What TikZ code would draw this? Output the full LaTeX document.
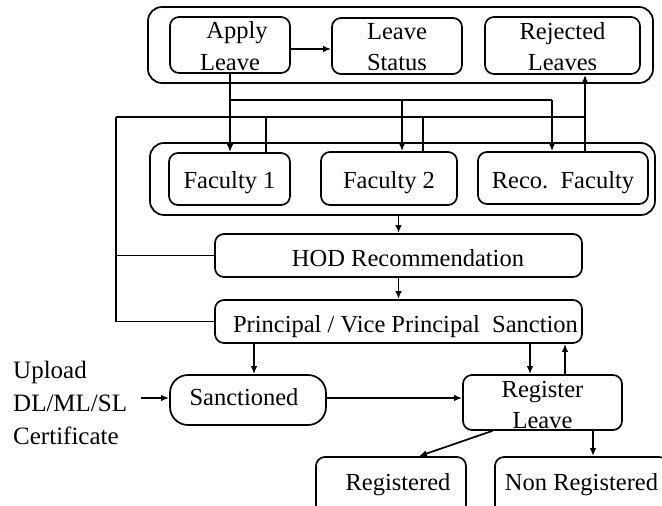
\documentclass[tikz,border=0pt]{standalone}
\usepackage{fontspec}
\setmainfont{Liberation Serif}
\usetikzlibrary{arrows.meta}
\newcommand{\onetxt}[2]{\raisebox{#1}[0pt][0pt]{#2}}
\newcommand{\twotxt}[3]{\raisebox{#1}[0pt][0pt]{\begin{tabular}[b]{@{}c@{}}#2\\#3\end{tabular}}}
\begin{document}
\begin{tikzpicture}[x=1pt,y=-1pt,
  every node/.style={font=\fontsize{24.5}{31}\selectfont},
  box/.style={draw, line width=1.7pt, rounded corners=9pt, inner sep=0pt},
  outerbox/.style={draw, line width=1.7pt, rounded corners=14pt, inner sep=0pt},
  ln/.style={line width=1.7pt},
  arr/.style={line width=1.7pt, -{Latex[length=8pt,width=6.5pt]}}]
\fill[white] (0,0) rectangle (662,506);
\useasboundingbox (0,0) rectangle (662,506);
\clip (0,0) rectangle (662,506);

% top group
\node[outerbox, minimum width=505pt, minimum height=76pt] (topgrp) at (400.5,45) {};
\node[box, minimum width=120pt, minimum height=56pt] (apply) at (230,45) {\twotxt{-25pt}{\hspace*{14pt}Apply}{Leave}};
\node[box, minimum width=130pt, minimum height=56pt] (status) at (397,46) {\twotxt{-24pt}{Leave}{Status}};
\node[box, minimum width=155pt, minimum height=57pt] (rejected) at (562.5,45.5) {\twotxt{-24.5pt}{Rejected}{Leaves}};

% middle group
\node[outerbox, minimum width=505pt, minimum height=72pt] (mid) at (402.5,179) {};
\node[box, minimum width=121pt, minimum height=52pt] (fac1) at (229.5,179) {\onetxt{-9pt}{Faculty 1}};
\node[box, minimum width=136pt, minimum height=53pt] (fac2) at (389,178.5) {\onetxt{-9.5pt}{Faculty 2}};
\node[box, minimum width=170pt, minimum height=52pt] (reco) at (563,178) {\onetxt{-10pt}{Reco.\ \ Faculty}};

\node[box, minimum width=367pt, minimum height=43pt] (hod) at (398.5,255.5) {\onetxt{-10.5pt}{\hspace*{19pt}HOD Recommendation}};
\node[box, minimum width=367pt, minimum height=43pt] (pvp) at (398.5,321.5) {\onetxt{-10.5pt}{\hspace*{14pt}Principal / Vice Principal\ \ Sanction}};

\node[box, rounded corners=18pt, minimum width=156pt, minimum height=50pt] (sanc) at (248,400) {\onetxt{-5pt}{\hspace*{-8pt}Sanctioned}};
\node[box, minimum width=159pt, minimum height=55pt] (reg) at (542.5,402.5) {\twotxt{-25.5pt}{Register}{Leave}};
\node[box, minimum width=150pt, minimum height=64pt] (regd) at (391,489) {\onetxt{-1pt}{\hspace*{14pt}Registered}};
\node[box, minimum width=173pt, minimum height=64pt] (nonreg) at (581.5,489) {\onetxt{-1pt}{Non Registered}};

\node[align=left, text width=128pt, inner sep=0pt, anchor=west, font=\fontsize{25}{33}\selectfont] (upload) at (13,403) {Upload\\DL/ML/SL\\Certificate};

% bus coordinates
\coordinate (b1) at (230,100);
\coordinate (b3) at (402,100);
\coordinate (b2) at (552,100);
\coordinate (f0) at (116,117);
\coordinate (u1) at (266,117);
\coordinate (u2) at (423,117);
\coordinate (f3) at (585,117);
\coordinate (dn) at (530,0);
\coordinate (up) at (565,0);
\coordinate (nr) at (593,0);

% connectors
\draw[arr] (apply.east |- 0,49) -- (status.west |- 0,49);
\draw[ln] (apply.south -| b1) -- (b1) -- (b2);
\draw[arr] (b1) -- (fac1.north -| b1);
\draw[arr] (b3) -- (fac2.north -| b3);
\draw[arr] (b2) -- (reco.north -| b2);

\draw[ln] (fac1.north -| u1) -- (u1);
\draw[ln] (fac2.north -| u2) -- (u2);
\draw[ln] (f0) -- (f3);
\draw[arr] (reco.north -| f3) -- (rejected.south -| f3);
\draw[ln] (pvp.west) -| (f0);
\draw[ln] (hod.west) -- (hod.west -| f0);

\draw[arr] (mid.south -| hod.north) -- (hod.north);
\draw[arr] (hod.south) -- (pvp.north);
\draw[arr] ([xshift=6pt]pvp.south -| sanc.north) -- ([xshift=6pt]sanc.north);
\draw[arr] (pvp.south -| dn) -- (reg.north -| dn);
\draw[arr] (reg.north -| up) -- (pvp.south -| up);

\draw[arr] (upload.east |- 0,398) -- (sanc.west |- 0,398);
\draw[arr] (sanc.east |- 0,398) -- (reg.west |- 0,398);
\draw[arr] ([xshift=-50pt]reg.south) -- ([xshift=28pt]regd.north);
\draw[arr] (reg.south -| nr) -- (nonreg.north -| nr);
\end{tikzpicture}
\end{document}
